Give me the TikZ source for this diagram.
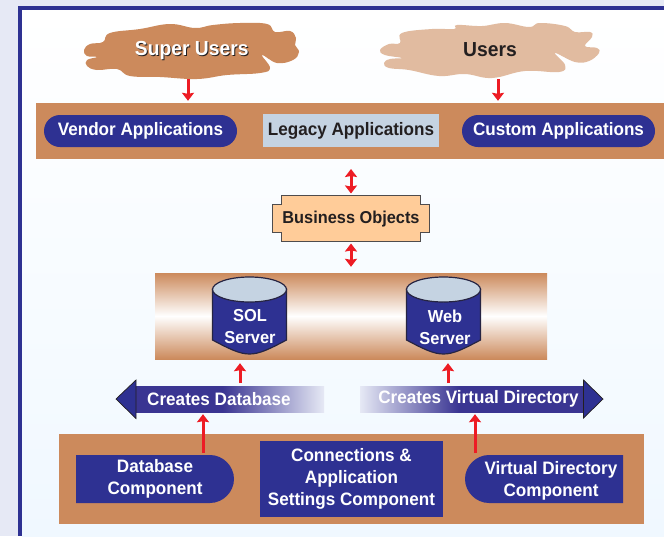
\documentclass[tikz,border=0pt]{standalone}
\usepackage{fontspec}
\setmainfont[BoldFeatures={FakeStretch=0.95}]{Liberation Sans}
\usetikzlibrary{arrows.meta}

\definecolor{pagetint}{HTML}{E6E9F5}
\definecolor{frameblue}{HTML}{2E3192}
\definecolor{barblue}{HTML}{3A3592}
\definecolor{copper}{HTML}{CC8A5C}
\definecolor{paleclay}{HTML}{E1BBA0}
\definecolor{steelgrey}{HTML}{C5D3E2}
\definecolor{peach}{HTML}{FFCC99}
\definecolor{inkdark}{HTML}{231F20}
\definecolor{arrowred}{HTML}{ED1C24}
\definecolor{skytint}{HTML}{F0F8FF}

\pgfdeclarehorizontalshading{fadeleft}{100bp}{color(0bp)=(barblue); color(48bp)=(barblue); color(75bp)=(pagetint); color(100bp)=(pagetint)}
\pgfdeclarehorizontalshading{faderight}{100bp}{color(0bp)=(pagetint); color(25bp)=(pagetint); color(47bp)=(barblue); color(100bp)=(barblue)}

\tikzset{
    labeltext/.style={font=\bfseries\fontsize{18}{22}\selectfont,align=center,inner sep=0pt},
    whitelabel/.style={labeltext,text=white},
    darklabel/.style={labeltext,text=inkdark},
    cloudlabel/.style={font=\bfseries\fontsize{20.3}{24}\selectfont,inner sep=0pt},
    pillbox/.style={whitelabel,rounded corners=16pt,fill=frameblue,minimum width=193pt,minimum height=32pt},
    bluebox/.style={whitelabel,fill=frameblue},
    redarrow/.style={draw=arrowred,line width=3pt,-{Stealth[length=8pt,width=12pt,inset=1pt]}},
    reddouble/.style={draw=arrowred,line width=3pt,{Stealth[length=8pt,width=12pt,inset=1pt]}-{Stealth[length=8pt,width=12pt,inset=1pt]}},
    barhead/.style={fill=frameblue,draw=inkdark,line width=0.7pt},
    cylbody/.style={fill=frameblue,draw=inkdark!70!frameblue,line width=1.2pt},
}

\begin{document}
\begin{tikzpicture}[x=1pt,y=-1pt]
    \useasboundingbox (0,0) rectangle (664,536);
    \fill[pagetint] (0,0) rectangle (664,536);
    \fill[frameblue] (18,6) rectangle (664,536);
    \shade[top color=white,bottom color=skytint] (22,10) rectangle (664,536);

    \fill[copper] plot[smooth cycle,tension=0.7] coordinates {(84,50) (90,44) (103,42) (110,33) (140,29) (170,24) (195,28) (213,25) (240,23) (267,24) (275,32) (290,31) (296,38) (295,45) (299,52) (293,60) (277,63) (262,55) (270,68) (260,73) (227,75) (197,79) (160,77) (130,76) (117,69) (97,70) (87,66) (87,60) (97,57) (87,56)};
    \fill[paleclay] plot[smooth cycle,tension=0.7] coordinates {(380,50) (389,44) (400,43) (402,33) (432,29) (454,29) (457,25) (482,26) (505,23) (529,27) (540,23) (565,26) (575,32) (590,32) (592,37) (585,46) (597,48) (599,53) (589,61) (575,62) (555,53) (565,65) (559,72) (525,71) (492,78) (465,74) (439,76) (409,70) (389,68) (384,63) (390,59) (402,58) (385,55)};
    \node[cloudlabel,text=inkdark] (supershadow) at (192.8,52) {Super Users};
    \node[cloudlabel,text=white] (superusers) at (191.8,51) {Super Users};
    \node[cloudlabel,text=inkdark] (users) at (490,50) {Users};

    \node[fill=copper,minimum width=628pt,minimum height=56pt,inner sep=0pt] (bandapps) at (350,131) {};
    \node[pillbox] (vendorapps) at (140.5,131) {\raisebox{-1.5pt}{Vendor Applications}};
    \node[darklabel,fill=steelgrey,minimum width=176pt,minimum height=33pt] (legacyapps) at (351,130.5) {\raisebox{-1pt}{Legacy Applications}};
    \node[pillbox] (customapps) at (558.5,131) {\raisebox{-1.5pt}{Custom Applications}};

    \fill[peach,draw=inkdark!80,line width=1pt] (281.5,195.5) -- (420.5,195.5) -- (420.5,204.5) -- (429.5,204.5) -- (429.5,232.5) -- (420.5,232.5) -- (420.5,241.5) -- (281.5,241.5) -- (281.5,232.5) -- (272.5,232.5) -- (272.5,204.5) -- (281.5,204.5) -- cycle;
    \node[darklabel,font=\bfseries\fontsize{17.2}{22}\selectfont,minimum width=157pt,minimum height=46pt] (bizobjects) at (351,219) {Business Objects};

    \shade[top color=copper,bottom color=copper,middle color=white] (155,273) rectangle (547,359);
    \node[minimum width=392pt,minimum height=86pt,inner sep=0pt] (bandservers) at (351,316) {};

    \foreach \cx in {249.5,443.5} {
        \path[cylbody] (\cx-37,289) -- (\cx-37,340) .. controls (\cx-20,349) and (\cx-10,354) .. (\cx,354) .. controls (\cx+10,354) and (\cx+20,349) .. (\cx+37,340) -- (\cx+37,289) -- cycle;
        \path[fill=steelgrey,draw=inkdark!70!frameblue,line width=1.2pt] (\cx,289.5) ellipse (37 and 12.5);
    }
    \node[whitelabel,font=\bfseries\fontsize{17.3}{22}\selectfont] (sqlserver) at (250,327) {SOL\\Server};
    \node[whitelabel,font=\bfseries\fontsize{17.3}{22}\selectfont] (webserver) at (445,327) {Web\\Server};

    \node[whitelabel,shading=fadeleft,minimum width=188pt,minimum height=26pt] (dbbar) at (230,399) {Creates Database\hspace*{22pt}};
    \node[whitelabel,shading=faderight,minimum width=224pt,minimum height=26pt] (vdbar) at (472,399) {\hspace*{13pt}\raisebox{1.5pt}{Creates Virtual Directory}};
    \path[barhead] (136,380) -- (116,399) -- (136,418.5) -- cycle;
    \path[barhead] (583.5,380) -- (603,399) -- (583.5,418) -- cycle;

    \node[fill=copper,minimum width=585pt,minimum height=90pt,inner sep=0pt] (bandcomps) at (351.5,479) {};
    \fill[frameblue] (76,455) -- (210,455) .. controls (223,455) and (234,466) .. (234,479) .. controls (234,492) and (223,503) .. (210,503) -- (76,503) -- cycle;
    \fill[frameblue] (623,455) -- (489,455) .. controls (476,455) and (465,466) .. (465,479) .. controls (465,492) and (476,503) .. (489,503) -- (623,503) -- cycle;
    \node[whitelabel] (dbcomp) at (155,478.5) {Database\\Component};
    \node[bluebox,minimum width=183pt,minimum height=76pt] (appcomp) at (351.5,479) {Connections \&\\Application\\Settings Component};
    \node[whitelabel] (vdcomp) at (551,480.5) {Virtual Directory\\Component};

    \coordinate (superfoot) at (188,79);
    \coordinate (usersfoot) at (498,79);
    \coordinate (sqlfoot) at (240,383);
    \coordinate (webfoot) at (448,383);
    \coordinate (dbfoot) at (203,453);
    \coordinate (vdfoot) at (475,453);

    \draw[redarrow,shorten >=2pt] (superfoot) -- (superfoot |- bandapps.north);
    \draw[redarrow,shorten >=2pt] (usersfoot) -- (usersfoot |- bandapps.north);
    \draw[reddouble,shorten <=10pt,shorten >=2pt] (351,159) -- (351,195.5);
    \draw[reddouble,shorten <=2pt,shorten >=6pt] (351,241.5) -- (bandservers.north);
    \draw[redarrow,shorten >=4pt] (sqlfoot) -- (sqlfoot |- bandservers.south);
    \draw[redarrow,shorten >=4pt] (webfoot) -- (webfoot |- bandservers.south);
    \draw[redarrow,shorten >=2pt] (dbfoot) -- (dbfoot |- dbbar.south);
    \draw[redarrow,shorten >=2pt] (vdfoot) -- (vdfoot |- vdbar.south);
\end{tikzpicture}
\end{document}
